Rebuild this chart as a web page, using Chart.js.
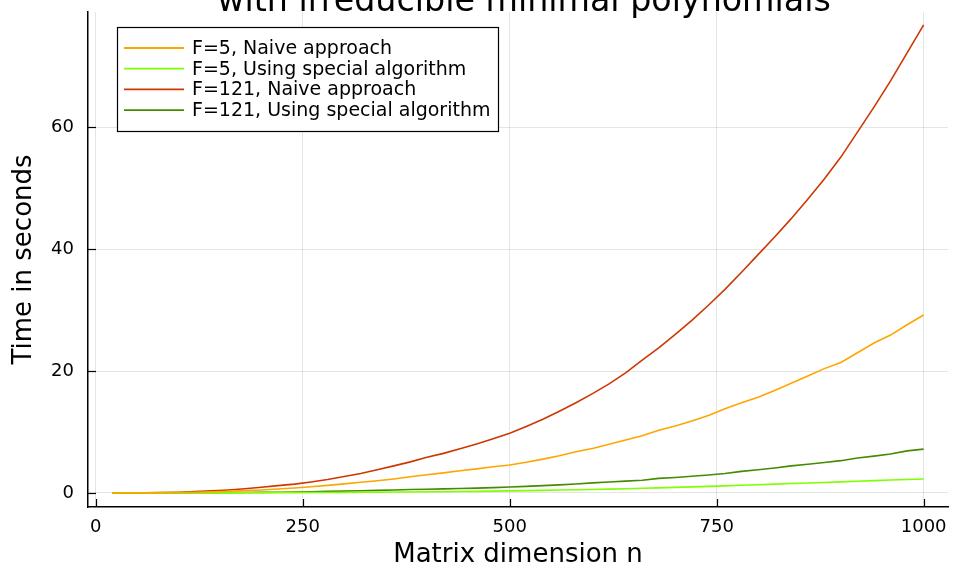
<!DOCTYPE html>
<html>
<head>
<meta charset="utf-8">
<script src="https://cdn.jsdelivr.net/npm/chart.js@4/dist/chart.umd.min.js"></script>
<style>
html,body{margin:0;padding:0;background:#fff;}
canvas{display:block;}
</style>
</head>
<body>
<canvas id="c" width="954" height="571"></canvas>
<script>
const titleText = "with irreducible minimal polynomials";
const xLabel = "Matrix dimension n";
const yLabel = "Time in seconds";
const xTicks = [0, 250, 500, 750, 1000];
const yTicks = [0, 20, 40, 60];
const seriesNames = ["F=5, Naive approach", "F=5, Using special algorithm", "F=121, Naive approach", "F=121, Using special algorithm"];
const seriesColors = ["#ffa500", "#7fff00", "#cd3700", "#458b00"];

const dims = [20,40,60,80,100,120,140,160,180,200,220,240,260,280,300,320,340,360,380,400,
  420,440,460,480,500,520,540,560,580,600,620,640,660,680,700,720,740,760,780,800,
  820,840,860,880,900,920,940,960,980,1000];

const f5Naive = [0.0,0.01,0.02,0.05,0.08,0.13,0.2,0.28,0.38,0.5,0.65,0.82,1.02,1.25,1.5,1.75,2.0,2.3,2.65,3.0,
  3.3,3.65,3.95,4.3,4.6,5.05,5.55,6.1,6.75,7.3,8.0,8.7,9.4,10.3,11.0,11.8,12.7,13.8,14.8,15.7,
  16.8,18.0,19.2,20.4,21.4,23.0,24.6,25.9,27.6,29.2];

const f5Special = [0,0,0,0.01,0.01,0.01,0.02,0.02,0.03,0.04,0.05,0.06,0.07,0.08,0.1,0.11,0.13,0.15,0.17,0.19,
  0.21,0.24,0.27,0.3,0.34,0.38,0.43,0.48,0.53,0.58,0.63,0.7,0.78,0.84,0.92,1.0,1.08,1.17,1.27,1.36,
  1.45,1.55,1.64,1.73,1.82,1.92,2.02,2.12,2.2,2.3];

const f121Naive = [0.0,0.01,0.03,0.07,0.13,0.22,0.34,0.5,0.7,0.95,1.2,1.45,1.8,2.2,2.7,3.2,3.8,4.45,5.1,5.85,
  6.5,7.25,8.05,8.9,9.8,10.9,12.1,13.4,14.8,16.3,17.9,19.7,21.8,23.8,26.0,28.3,30.8,33.4,36.2,39.1,
  42.0,45.0,48.2,51.5,55.1,59.2,63.3,67.6,72.2,76.8];

const f121Special = [0.0,0.0,0.01,0.01,0.02,0.03,0.04,0.06,0.08,0.1,0.13,0.17,0.21,0.26,0.31,0.37,0.43,0.5,0.56,0.62,
  0.68,0.74,0.8,0.88,0.97,1.08,1.2,1.33,1.48,1.65,1.8,1.95,2.1,2.4,2.55,2.75,2.95,3.2,3.55,3.8,
  4.1,4.45,4.7,5.0,5.3,5.75,6.05,6.4,6.9,7.2];

const seriesValues = [f5Naive, f5Special, f121Naive, f121Special];

const FONT = "'DejaVu Sans', sans-serif";

const datasets = seriesValues.map((vals, i) => ({
  label: seriesNames[i],
  data: dims.map((d, j) => ({x: d, y: vals[j]})),
  borderColor: seriesColors[i],
  backgroundColor: seriesColors[i],
  borderWidth: 1.6,
  pointRadius: 0,
  tension: 0,
  fill: false
}));

const decorPlugin = {
  id: 'decor',
  afterDraw(chart) {
    const ctx = chart.ctx;
    const xs = chart.scales.x, ys = chart.scales.y;
    const area = chart.chartArea;
    ctx.save();
    // inward tick marks
    ctx.strokeStyle = '#000';
    ctx.lineWidth = 1.2;
    xTicks.forEach(v => {
      const px = Math.round(xs.getPixelForValue(v)) + 0.5;
      ctx.beginPath(); ctx.moveTo(px, area.bottom); ctx.lineTo(px, area.bottom - 8); ctx.stroke();
    });
    yTicks.forEach(v => {
      const py = Math.round(ys.getPixelForValue(v)) + 0.5;
      ctx.beginPath(); ctx.moveTo(area.left, py); ctx.lineTo(area.left + 8, py); ctx.stroke();
    });
    // title (mostly cut off at top)
    ctx.fillStyle = '#000';
    ctx.font = "33.3px " + FONT;
    ctx.textAlign = 'center';
    ctx.textBaseline = 'alphabetic';
    ctx.fillText(titleText, 524, 11);
    // legend
    const lx = 117, ly = 27, lw = 381, lh = 104;
    ctx.fillStyle = '#fff';
    ctx.fillRect(lx, ly, lw, lh);
    ctx.strokeStyle = '#000';
    ctx.lineWidth = 1.2;
    ctx.strokeRect(lx + 0.5, ly + 0.5, lw, lh);
    ctx.font = "19px " + FONT;
    ctx.textAlign = 'left';
    ctx.textBaseline = 'middle';
    chart.data.datasets.forEach((ds, i) => {
      const yy = 48 + i * 20.7;
      ctx.strokeStyle = ds.borderColor;
      ctx.lineWidth = 1.8;
      ctx.beginPath(); ctx.moveTo(124, yy); ctx.lineTo(184, yy); ctx.stroke();
      ctx.fillStyle = '#000';
      ctx.fillText(ds.label, 192, yy + 1);
    });
    ctx.restore();
  }
};

new Chart(document.getElementById('c'), {
  type: 'line',
  data: { datasets },
  options: {
    responsive: false,
    devicePixelRatio: 1,
    animation: false,
    layout: { padding: { left: 0, right: 6, top: 12, bottom: 0 } },
    plugins: { legend: { display: false }, tooltip: { enabled: false }, title: { display: false } },
    scales: {
      x: {
        type: 'linear',
        min: -9.4, max: 1029.4,
        afterBuildTicks: s => { s.ticks = xTicks.map(v => ({value: v})); },
        afterFit: s => { s.height = 64; s.paddingLeft = 0; s.paddingRight = 0; },
        grid: { color: 'rgba(0,0,0,0.1)', lineWidth: 1, drawTicks: false },
        border: { display: true, color: '#000', width: 1.5 },
        ticks: { color: '#000', font: { family: FONT, size: 18 }, padding: 10, maxRotation: 0, autoSkip: false, callback: v => String(v) },
        title: { display: true, text: xLabel, color: '#000', font: { family: FONT, size: 26 }, padding: { top: 0, bottom: 0 } }
      },
      y: {
        type: 'linear',
        min: -2.3, max: 78.9,
        afterBuildTicks: s => { s.ticks = yTicks.map(v => ({value: v})); },
        afterFit: s => { s.width = 88; s.paddingTop = 0; s.paddingBottom = 0; },
        grid: { color: 'rgba(0,0,0,0.1)', lineWidth: 1, drawTicks: false },
        border: { display: true, color: '#000', width: 1.5 },
        ticks: { color: '#000', font: { family: FONT, size: 18 }, padding: 14, autoSkip: false, callback: v => String(v) },
        title: { display: true, text: yLabel, color: '#000', font: { family: FONT, size: 26 }, padding: { top: 9, bottom: 0 } }
      }
    }
  },
  plugins: [decorPlugin]
});
</script>
</body>
</html>
